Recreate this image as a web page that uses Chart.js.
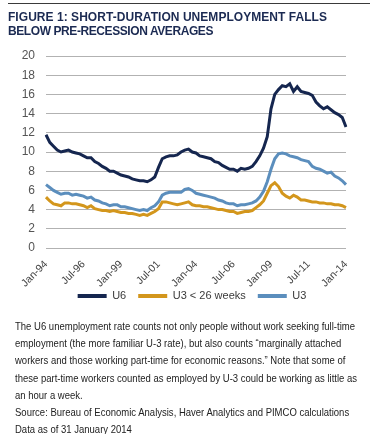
<!DOCTYPE html>
<html><head><meta charset="utf-8">
<script src="https://cdn.jsdelivr.net/npm/chart.js@4/dist/chart.umd.min.js"></script>
<style>
body{margin:0;width:375px;height:434px;background:#fff;position:relative;overflow:hidden;font-family:"Liberation Sans",Arial,sans-serif}
#rule{position:absolute;left:8px;top:3px;width:362px;height:1px;background:#3a3a3a}
#title{position:absolute;left:8px;top:10px;font-weight:bold;font-size:12px;line-height:14px;color:#1b2a52;white-space:nowrap}
#title span,#note span{display:inline-block;transform-origin:0 0;white-space:nowrap}
#c{position:absolute;left:0;top:0}
#note{position:absolute;left:15px;top:318px;font-size:10.6px;line-height:17.2px;color:#222;white-space:nowrap}
</style></head><body>
<div id="rule"></div>
<canvas id="c" width="375" height="323"></canvas>
<div id="title"><span data-w="319">FIGURE 1: SHORT-DURATION UNEMPLOYMENT FALLS</span><br><span data-w="205">BELOW PRE-RECESSION AVERAGES</span></div>
<div id="note"><span>The U6 unemployment rate counts not only people without work seeking full-time</span><br><span>employment (the more familiar U-3 rate), but also counts “marginally attached</span><br><span>workers and those working part-time for economic reasons.” Note that some of</span><br><span>these part-time workers counted as employed by U-3 could be working as little as</span><br><span>an hour a week.</span><br><span>Source: Bureau of Economic Analysis, Haver Analytics and PIMCO calculations</span><br><span>Data as of 31 January 2014</span></div>
<script>
// quarterly categories Jan-94 ... Jan-14
const months = ['Jan','Apr','Jul','Oct'];
const categories = [];
for (let y = 1994; y <= 2014; y++) {
  for (let q = 0; q < 4; q++) {
    if (y === 2014 && q > 0) break;
    categories.push(months[q] + '-' + String(y % 100).padStart(2, '0'));
  }
}
const tickLabels = ['Jan-94','Jul-96','Jan-99','Jul-01','Jan-04','Jul-06','Jan-09','Jul-11','Jan-14'];

const u6 = [
 11.8,11.0,10.6,10.2, 10.0,10.1,10.2,10.0, 9.9,9.8,9.6,9.4, 9.4,9.0,8.8,8.5,
 8.3,8.0,8.0,7.8, 7.6,7.5,7.4,7.2, 7.1,7.0,7.0,6.9, 7.1,7.4,8.4,9.3,
 9.5,9.6,9.6,9.7, 10.0,10.2,10.3,10.0, 9.9,9.6,9.5,9.4, 9.3,9.0,8.9,8.6,
 8.4,8.2,8.2,8.0, 8.3,8.2,8.3,8.5, 9.0,9.6,10.4,11.6, 14.5,16.0,16.5,16.9,
 16.8,17.1,16.3,16.8, 16.3,16.2,16.1,15.9, 15.2,14.8,14.5,14.7, 14.4,14.1,13.9,13.6,
 12.6];
const u3short = [
 5.3,4.9,4.6,4.5, 4.4,4.7,4.7,4.6, 4.6,4.5,4.4,4.2, 4.4,4.1,4.0,3.9,
 3.9,3.8,3.9,3.8, 3.7,3.7,3.6,3.6, 3.5,3.4,3.5,3.4, 3.6,3.8,4.1,4.8,
 4.8,4.7,4.6,4.5, 4.6,4.7,4.8,4.5, 4.4,4.4,4.3,4.3, 4.2,4.1,4.0,4.0,
 3.9,3.8,3.8,3.6, 3.7,3.8,3.8,3.9, 4.2,4.5,4.9,5.7, 6.5,6.8,6.4,5.7,
 5.4,5.2,5.5,5.3, 5.0,5.0,4.9,4.8, 4.8,4.7,4.7,4.6, 4.6,4.5,4.5,4.4,
 4.2];
const u3 = [
 6.6,6.3,6.0,5.8, 5.6,5.7,5.7,5.5, 5.6,5.5,5.4,5.2, 5.3,5.0,4.9,4.7,
 4.6,4.4,4.5,4.5, 4.3,4.3,4.2,4.1, 4.0,3.9,4.0,3.9, 4.2,4.4,4.8,5.5,
 5.7,5.8,5.8,5.8, 5.8,6.1,6.2,6.0, 5.7,5.6,5.5,5.4, 5.3,5.2,5.0,4.9,
 4.7,4.6,4.6,4.4, 4.5,4.5,4.6,4.7, 4.9,5.3,5.9,6.9, 8.2,9.3,9.8,9.9,
 9.8,9.6,9.5,9.4, 9.2,9.1,9.0,8.5, 8.3,8.2,8.0,7.8, 7.9,7.5,7.3,7.0,
 6.6];

const seriesNames = ['U6','U3 < 26 weeks','U3'];
const colors = ['#15264f','#d3961c','#5b8ebd'];

// fit title (letter-spacing) and note (horizontal scale) to the reference widths
document.querySelectorAll('#title span').forEach(s => {
  const w = s.getBoundingClientRect().width, t = +s.dataset.w;
  s.style.letterSpacing = ((t - w) / s.textContent.length) + 'px';
});
(function () {
  const spans = document.querySelectorAll('#note span');
  const f = 340 / spans[0].getBoundingClientRect().width;
  spans.forEach(s => { s.style.transform = 'scaleX(' + f + ')'; });
})();

const shiftLegend = {
  id: 'shiftLegend',
  afterLayout(chart) {
    const lg = chart.legend; if (!lg) return;
    lg.left += 19; lg.right += 19;
    lg.top -= 11.5; lg.bottom -= 11.5;
  }
};

const fontNarrow = '"Liberation Sans",Arial,sans-serif';
new Chart(document.getElementById('c'), {
  type: 'line',
  data: {
    labels: categories,
    datasets: [u6, u3short, u3].map((d, i) => ({
      label: seriesNames[i], data: d,
      borderColor: colors[i], backgroundColor: colors[i],
      borderWidth: 3, pointRadius: 0, tension: 0, fill: false
    }))
  },
  options: {
    responsive: false, animation: false, devicePixelRatio: 1,
    layout: { padding: { top: 56, right: 29, left: 0, bottom: 0 } },
    plugins: {
      tooltip: { enabled: false },
      legend: {
        position: 'bottom',
        labels: {
          boxWidth: 29, boxHeight: 4, padding: 12, color: '#3a3a3a',
          font: { family: fontNarrow, size: 11 },
          generateLabels: chart => Chart.defaults.plugins.legend.labels.generateLabels(chart)
            .map(l => Object.assign(l, { lineWidth: 0, fillStyle: l.strokeStyle }))
        }
      }
    },
    scales: {
      x: {
        afterFit: s => { s.height = 42; },
        grid: { display: false, drawTicks: false },
        border: { display: false },
        ticks: {
          autoSkip: false, maxRotation: 45, minRotation: 45, padding: 10,
          color: '#444', font: { family: fontNarrow, size: 10.5 },
          callback: function (v, i) {
            const lab = categories[i];
            return tickLabels.includes(lab) ? lab : null;
          }
        }
      },
      y: {
        min: 0, max: 20,
        afterFit: s => { s.width = 46; },
        grid: { color: '#b2b2b2', lineWidth: 1, drawTicks: false },
        border: { display: false },
        ticks: { stepSize: 2, maxTicksLimit: 12, padding: 11, color: '#555',
          font: { family: '"Liberation Sans",Arial,sans-serif', size: 12 } }
      }
    }
  },
  plugins: [shiftLegend]
});
</script>
</body></html>
